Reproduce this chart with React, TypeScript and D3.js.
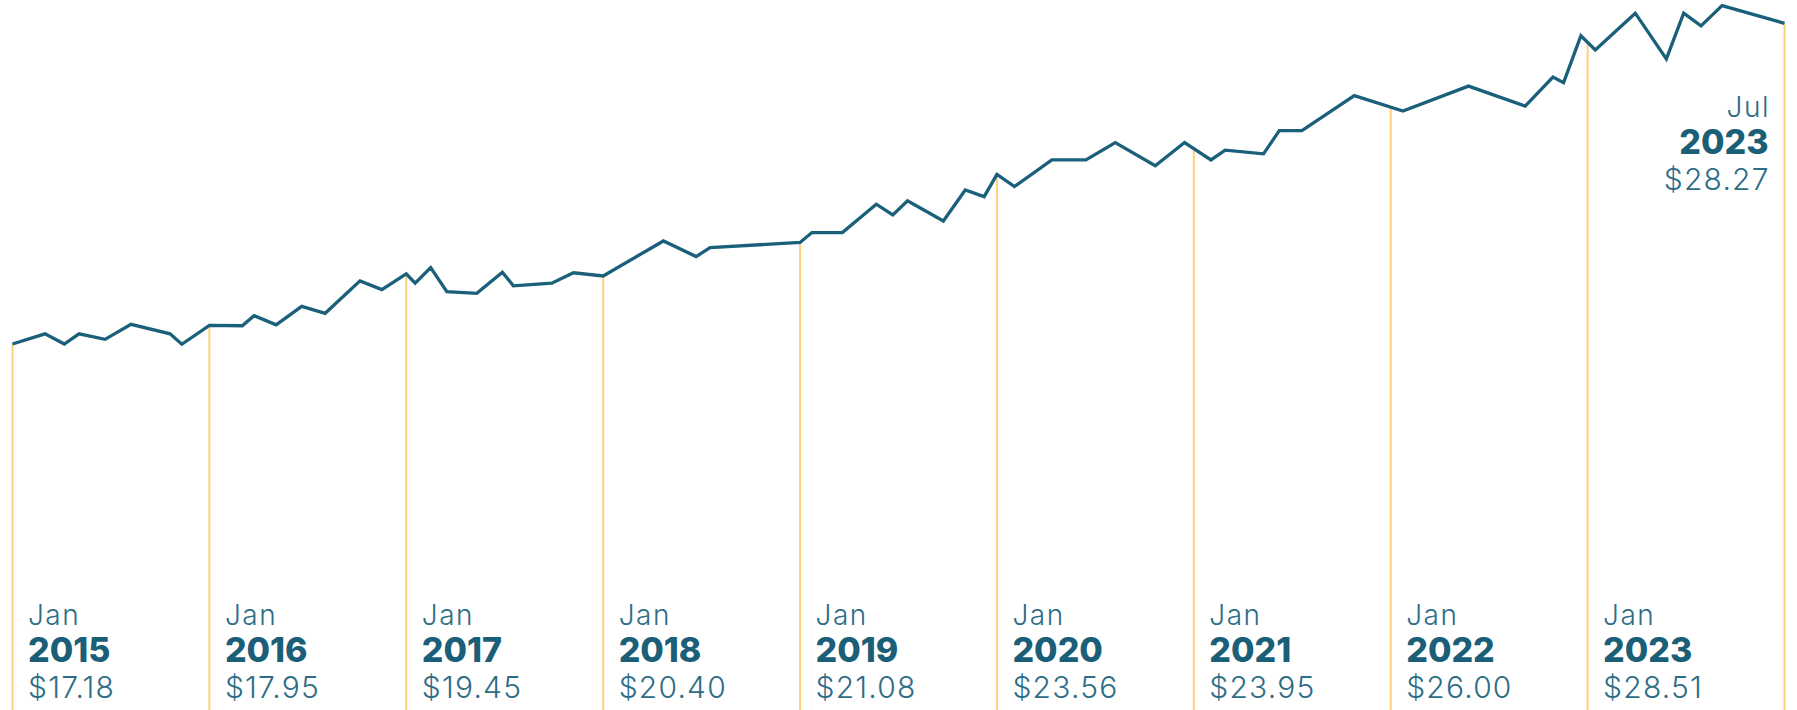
import { useEffect, useRef } from 'react';
import * as d3 from 'd3';

const pointYears = [
  2015.0, 2015.165, 2015.263, 2015.338, 2015.47, 2015.602, 2015.8, 2015.86,
  2016.0, 2016.167, 2016.227, 2016.339, 2016.469, 2016.588, 2016.765, 2016.876,
  2017.0, 2017.045, 2017.124, 2017.206, 2017.358, 2017.488, 2017.544, 2017.739, 2017.849,
  2018.0, 2018.306, 2018.472, 2018.543,
  2019.0, 2019.06, 2019.215, 2019.387, 2019.471, 2019.546, 2019.728, 2019.839, 2019.935,
  2020.0, 2020.089, 2020.279, 2020.452, 2020.601, 2020.804, 2020.953,
  2021.087, 2021.159, 2021.354, 2021.434, 2021.549, 2021.815,
  2022.062, 2022.395, 2022.683, 2022.824, 2022.878, 2022.966,
  2023.039, 2023.242, 2023.4, 2023.488, 2023.576, 2023.683, 2024.0
];

const priceValues = [
  17.18, 17.53, 17.18, 17.53, 17.34, 17.86, 17.53, 17.17,
  17.82, 17.81, 18.16, 17.84, 18.48, 18.24, 19.36, 19.06,
  19.6, 19.28, 19.82, 18.99, 18.93, 19.66, 19.19, 19.28, 19.64,
  19.53, 20.74, 20.2, 20.51,
  20.69, 21.03, 21.03, 22.01, 21.64, 22.13, 21.43, 22.5, 22.27,
  23.04, 22.62, 23.54, 23.54, 24.14, 23.34, 24.14,
  23.54, 23.88, 23.75, 24.55, 24.55, 25.76,
  25.23, 26.09, 25.4, 26.4, 26.21, 27.83,
  27.34, 28.61, 27.03, 28.61, 28.17, 28.87, 28.26
];

// labelled markers along the line
const markerYears = [2015, 2016, 2017, 2018, 2019, 2020, 2021, 2022, 2023, 2024];
const markerMonths = ['Jan', 'Jan', 'Jan', 'Jan', 'Jan', 'Jan', 'Jan', 'Jan', 'Jan', 'Jul'];
const markerYearLabels = ['2015', '2016', '2017', '2018', '2019', '2020', '2021', '2022', '2023', '2023'];
const markerPrices = ['$17.18', '$17.95', '$19.45', '$20.40', '$21.08', '$23.56', '$23.95', '$26.00', '$28.51', '$28.27'];

const WIDTH = 1797;
const HEIGHT = 710;
const FONT = 'Inter, "Open Sans", sans-serif';

export default function App() {
  const svgRef = useRef<SVGSVGElement>(null);

  useEffect(() => {
    if (!svgRef.current) return;
    const svg = d3.select(svgRef.current);
    svg.selectAll('*').remove();

    const x = d3.scaleLinear().domain([2015, 2024]).range([12.5, 1784.5]);
    const y = d3.scaleLinear().domain([17, 29]).range([349.2, 1.9]);

    const data = pointYears.map((t, i) => ({ t, v: priceValues[i] }));

    // value of the line at a given time, for where the marker lines start
    const bisect = d3.bisector((d: { t: number }) => d.t).left;
    const valueAt = (t: number) => {
      const i = bisect(data, t);
      if (i <= 0) return data[0].v;
      if (i >= data.length) return data[data.length - 1].v;
      const a = data[i - 1];
      const b = data[i];
      const k = (t - a.t) / (b.t - a.t);
      return a.v + (b.v - a.v) * k;
    };

    // marker lines
    markerYears.forEach((t) => {
      svg.append('line')
        .attr('x1', x(t))
        .attr('x2', x(t))
        .attr('y1', y(valueAt(t)))
        .attr('y2', HEIGHT)
        .attr('stroke', '#fdd27c')
        .attr('stroke-width', 2);
    });

    // price line
    const line = d3.line<{ t: number; v: number }>()
      .x(d => x(d.t))
      .y(d => y(d.v));

    svg.append('path')
      .attr('d', line(data) || '')
      .attr('fill', 'none')
      .attr('stroke', '#1b607a')
      .attr('stroke-width', 3.3);

    // labels
    markerYears.forEach((t, i) => {
      const last = i === markerYears.length - 1;
      const lx = last ? x(t) - 16 : x(t) + 15.5;
      const base = last ? 117 : 625;
      const g = svg.append('g')
        .attr('font-family', FONT)
        .attr('text-anchor', last ? 'end' : 'start');

      // trailing letter-spacing pushes end-anchored text left, so add it back
      g.append('text')
        .attr('x', last ? lx + 1.5 : lx)
        .attr('y', base)
        .attr('fill', '#2d6d87')
        .attr('font-size', 28)
        .attr('font-weight', 300)
        .attr('letter-spacing', 1.5)
        .text(markerMonths[i]);

      g.append('text')
        .attr('x', lx)
        .attr('y', base + 37)
        .attr('fill', '#1b5e78')
        .attr('font-size', 34)
        .attr('font-weight', 800)
        .text(markerYearLabels[i]);

      g.append('text')
        .attr('x', last ? lx + 1.2 : lx)
        .attr('y', base + 73)
        .attr('fill', '#2d6d87')
        .attr('font-size', 30)
        .attr('font-weight', 300)
        .attr('letter-spacing', 1.2)
        .text(markerPrices[i]);
    });
  }, []);

  return (
    <div style={{ position: 'absolute', left: 0, top: 0, width: WIDTH, height: HEIGHT, background: '#ffffff' }}>
      <svg ref={svgRef} width={WIDTH} height={HEIGHT} style={{ display: 'block' }} />
    </div>
  );
}
